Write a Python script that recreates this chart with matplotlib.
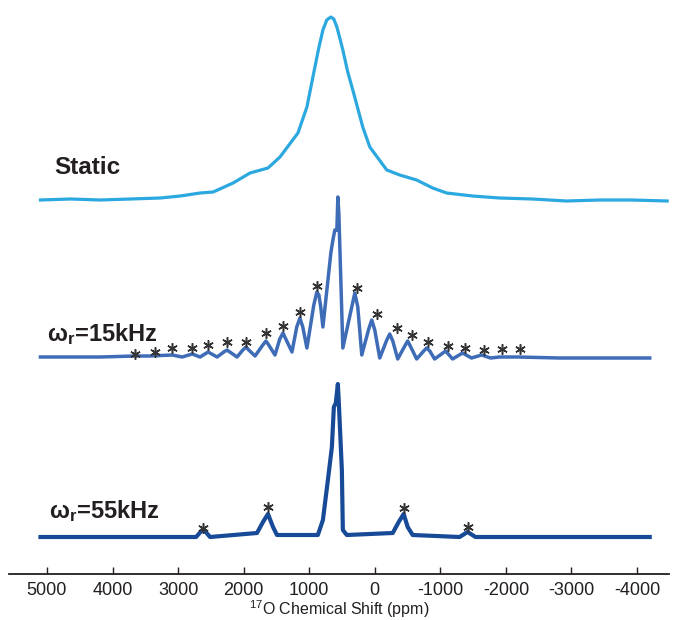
import matplotlib
matplotlib.use("Agg")
import matplotlib.pyplot as plt
import numpy as np

plt.rcParams['font.family'] = ['Liberation Sans', 'DejaVu Sans']
plt.rcParams['mathtext.fontset'] = 'custom'
plt.rcParams['mathtext.rm'] = 'Liberation Sans'
plt.rcParams['mathtext.bf'] = 'Liberation Sans:bold'
plt.rcParams['mathtext.it'] = 'Liberation Sans:bold'
plt.rcParams['axes.unicode_minus'] = False

# static spectrum: chemical shift (ppm) and intensity above baseline
static_ppm = [5099, 4642, 4186, 3729, 3272, 2968, 2664, 2466, 2161, 1903, 1629, 1446,
              1172, 1035, 913, 854, 791, 732, 670, 625, 578, 534, 487, 412, 335, 183,
              76, -183, -381, -639, -883, -1096, -1492, -1903, -2405, -2922, -3425,
              -3927, -4460]
static_int = [0, 1, 0, 1, 2, 4, 7, 8, 17, 27, 32, 43,
              67, 93, 133, 152, 170, 180, 183, 181, 173, 162, 150, 128, 110, 73,
              53, 30, 25, 20, 12, 7, 4, 2, 1, -1, 0,
              0, -1]

# 15 kHz MAS spectrum
mas15_ppm = [5099, 4186, 3653, 3425, 3090, 2938, 2785, 2664, 2542, 2405, 2303, 2253,
             2211, 2100, 2013, 1963, 1922, 1826, 1708, 1659, 1617, 1522, 1449, 1400,
             1357, 1263, 1190, 1142, 1098, 1035, 930, 883, 852, 824, 791, 670,
             639, 609, 578, 563, 548, 487, 351, 304, 259, 198, 92, 46, 0, -76,
             -183, -228, -275, -350, -458, -502, -549, -639, -747, -791, -839,
             -913, -1081, -1187, -1339, -1476, -1629, -1766, -1903, -2177, -2816,
             -4194]
mas15_int = [0, 0, 1, 1, 2, 0, 3, 0, 5, 0, 5, 7,
             5, 0, 7, 10, 7, 1, 12, 16, 12, 2, 18, 24,
             18, 5, 30, 39, 30, 9, 52, 65, 62, 50, 30, 104,
             117, 127, 127, 160, 144, 9, 50, 64, 50, 2, 28, 37, 27, -1,
             17, 23, 16, -2, 11, 16, 10, -2, 6, 9, 6,
             -2, 6, -2, 4, -1, 2, -1, 0, 0, -1,
             -1]

# 55 kHz MAS spectrum
mas55_ppm = [5099, 3500, 2725, 2618, 2512, 1796, 1705, 1629, 1552, 1492, 868, 791,
             715, 654, 624, 594, 563, 548, 502, 487, 426, -274, -365, -441, -502,
             -578, -1294, -1415, -1537, -3000, -4194]
mas55_int = [0, 0, 0, 8, 0, 4, 15, 23, 10, 2, 2, 17,
             57, 90, 130, 134, 153, 134, 67, 7, 2, 4, 15, 23, 10,
             2, 0, 5, 0, 0, 0]

# spinning sideband markers (ppm, height above baseline)
sb15_ppm = [3653, 3348, 3090, 2785, 2542, 2253, 1963, 1659, 1400, 1142, 883,
            274, -30, -335, -563, -807, -1111, -1370, -1659, -1948, -2222]
sb15_int = [3, 5, 9, 9, 12, 15, 15, 24, 31, 45, 71,
            69, 43, 29, 22, 15, 11, 9, 7, 8, 8]
sb55_ppm = [2618, 1629, -441, -1415]
sb55_int = [9, 30, 29, 10]

fig = plt.figure(figsize=(6.75, 6.2), dpi=100)
ax = fig.add_axes([9.4 / 675, 46 / 620, (669 - 9.4) / 675, 574 / 620])

ax.plot(static_ppm, np.array(static_int) + 374, color='#2aa8df', lw=2.3, solid_joinstyle='round')
ax.plot(mas15_ppm, np.array(mas15_int) + 217, color='#3e6cb7', lw=2.5, solid_joinstyle='round')
ax.plot(mas55_ppm, np.array(mas55_int) + 37, color='#174a97', lw=3.0, solid_joinstyle='round')

ax.plot(sb15_ppm, np.array(sb15_int) + 217, ls='none', marker=(6, 2, 0),
        ms=7.5, mew=1.1, color='#333333')
ax.plot(sb55_ppm, np.array(sb55_int) + 37, ls='none', marker=(6, 2, 0),
        ms=7.5, mew=1.1, color='#333333')

ax.text(1000 * (375 - 55) / 65.56, 406, 'Static', fontsize=17.5, fontweight='bold',
        color='#231f20', va='center', ha='left')
ax.text(1000 * (375 - 47) / 65.56, 240, r'$\mathbf{ω_r}$=15kHz', fontsize=17,
        fontweight='bold', color='#231f20', va='center', ha='left')
ax.text(1000 * (375 - 49) / 65.56, 63, r'$\mathbf{ω_r}$=55kHz', fontsize=17,
        fontweight='bold', color='#231f20', va='center', ha='left')

ax.set_xlim(5573, -4488)
ax.set_ylim(0, 574)
ax.set_xticks([5000, 4000, 3000, 2000, 1000, 0, -1000, -2000, -3000, -4000])
ax.set_yticks([])
for s in ['left', 'right', 'top']:
    ax.spines[s].set_visible(False)
ax.spines['bottom'].set_linewidth(1.3)
ax.spines['bottom'].set_color('#231f20')
ax.tick_params(axis='x', direction='in', length=5, width=1, labelsize=13,
               pad=6, colors='#231f20')
ax.set_xlabel(r'$^{17}$O Chemical Shift (ppm)', fontsize=11.5, labelpad=-1, color='#231f20')

fig.savefig('out.png', dpi=100)
